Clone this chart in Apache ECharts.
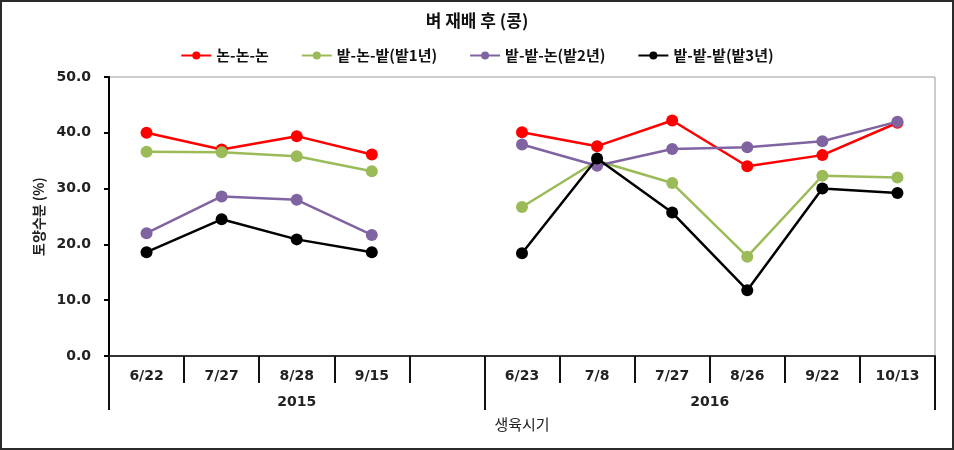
<!DOCTYPE html>
<html>
<head>
<meta charset="utf-8">
<script src="https://cdn.jsdelivr.net/npm/echarts@6/dist/echarts.min.js"></script>
<style>
html,body{margin:0;padding:0;background:#fff;}
#wrap{position:relative;width:954px;height:450px;}
#chart{position:absolute;left:0;top:0;width:954px;height:450px;}
#frame{position:absolute;left:0;top:0;width:954px;height:450px;box-sizing:border-box;border:2px solid #2a2a2a;pointer-events:none;}
</style>
</head>
<body>
<div id="wrap"><div id="chart"></div><div id="frame"></div></div>
<script>
const titleText = '벼 재배 후 (콩)';
const categories = ['6/22', '7/27', '8/28', '9/15', '', '6/23', '7/8', '7/27', '8/26', '9/22', '10/13'];
const years = ['2015', '2016'];
const seriesNames = ['논-논-논', '밭-논-밭(밭1년)', '밭-밭-논(밭2년)', '밭-밭-밭(밭3년)'];
const nonNonNon   = [40.0, 37.0, 39.4, 36.1, null, 40.1, 37.6, 42.2, 34.0, 36.0, 41.8];
const batNonBat   = [36.6, 36.5, 35.8, 33.1, null, 26.7, 35.0, 31.0, 17.8, 32.3, 32.0];
const batBatNon   = [22.0, 28.6, 28.0, 21.7, null, 37.9, 34.1, 37.1, 37.4, 38.5, 42.0];
const batBatBat   = [18.6, 24.5, 20.9, 18.6, null, 18.4, 35.4, 25.7, 11.8, 30.0, 29.2];
const yTicks = [0, 10, 20, 30, 40, 50];
const yearBounds = [0, 5, 11];
const yearCenters = [2.5, 8];
const colors = ['#FF0000', '#9BBB59', '#8064A2', '#000000'];
const seriesData = [nonNonNon, batNonBat, batBatNon, batBatBat];

const chart = echarts.init(document.getElementById('chart'), null, {renderer: 'canvas'});
const labelFont = 'DejaVu Sans, Verdana, sans-serif';
const krFont = '"Noto Sans CJK KR", sans-serif';

chart.setOption({
  animation: false,
  backgroundColor: '#fff',
  title: {
    text: titleText,
    left: 'center',
    top: 7,
    textStyle: {fontFamily: krFont, fontSize: 17, fontWeight: 'bold', color: '#111'}
  },
  legend: {
    data: seriesNames,
    top: 43,
    left: 'center',
    itemWidth: 30,
    itemHeight: 10,
    itemGap: 32,
    textStyle: {fontFamily: krFont, fontSize: 15, fontWeight: 'bold', color: '#111'}
  },
  grid: {
    left: 109, right: 19, top: 77, bottom: 94,
    show: true, borderColor: '#999', borderWidth: 1, backgroundColor: 'transparent'
  },
  xAxis: [
    {
      type: 'category',
      data: categories,
      boundaryGap: true,
      position: 'bottom',
      axisLine: {show: true, lineStyle: {color: '#333', width: 2}},
      axisTick: {show: true, interval: 0, length: 27, lineStyle: {color: '#111', width: 2}},
      axisLabel: {interval: 0, margin: 13, fontFamily: labelFont, fontSize: 14, fontWeight: 'bold', color: '#222'},
      splitLine: {show: false},
      name: '생육시기',
      nameLocation: 'middle',
      nameGap: 61,
      nameTextStyle: {fontFamily: krFont, fontSize: 15, color: '#222'}
    },
    {
      type: 'value',
      min: 0,
      max: 11,
      position: 'bottom',
      axisLine: {show: false},
      axisTick: {show: true, customValues: yearBounds, length: 54, lineStyle: {color: '#111', width: 2}},
      axisLabel: {
        customValues: yearCenters,
        margin: 39,
        fontFamily: labelFont, fontSize: 14, fontWeight: 'bold', color: '#222',
        formatter: function (v) { return v < 5 ? years[0] : years[1]; }
      },
      splitLine: {show: false}
    }
  ],
  yAxis: {
    type: 'value',
    min: 0,
    max: 50,
    interval: 10,
    axisLine: {show: true, lineStyle: {color: '#000', width: 2}},
    axisTick: {show: true, inside: false, length: 5, lineStyle: {color: '#000', width: 2}},
    axisLabel: {
      margin: 18,
      fontFamily: labelFont, fontSize: 14, fontWeight: 'bold', color: '#222',
      formatter: function (v) { return v.toFixed(1); }
    },
    splitLine: {show: false},
    name: '토양수분 (%)',
    nameLocation: 'middle',
    nameGap: 63,
    nameRotate: 90,
    nameTextStyle: {fontFamily: krFont, fontSize: 14, fontWeight: 'bold', color: '#222'}
  },
  series: seriesNames.map(function (n, i) {
    return {
      name: n,
      type: 'line',
      xAxisIndex: 0,
      data: seriesData[i],
      connectNulls: false,
      symbol: 'circle',
      symbolSize: 12,
      itemStyle: {color: colors[i]},
      lineStyle: {color: colors[i], width: 2.5},
      z: 2 + i
    };
  })
});
</script>
</body>
</html>
